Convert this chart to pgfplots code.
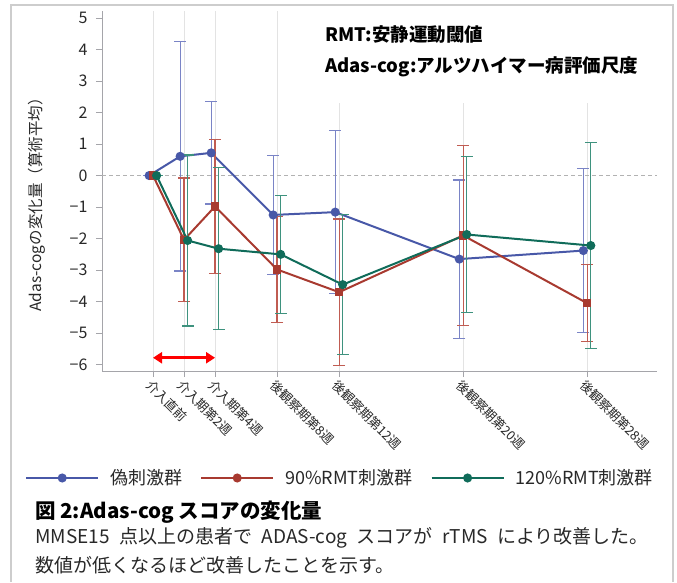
\documentclass[border=0pt]{standalone}
\usepackage{fontspec}
\setmainfont{Noto Sans CJK JP}
\usepackage{pgfplots}
\pgfplotsset{compat=1.18}
\usetikzlibrary{arrows.meta}
\definecolor{blueL}{RGB}{72,88,168}
\definecolor{blueE}{RGB}{122,132,198}
\definecolor{redL}{RGB}{168,58,48}
\definecolor{redE}{RGB}{192,92,82}
\definecolor{greenL}{RGB}{16,108,90}
\definecolor{greenE}{RGB}{62,146,126}
\definecolor{frameC}{RGB}{205,205,205}
\definecolor{axisC}{RGB}{165,165,170}
\definecolor{txtC}{RGB}{40,40,40}
\begin{document}
\begin{tikzpicture}
\path[use as bounding box] (0pt,0pt) rectangle (677pt,582pt);
\draw[frameC, line width=1.6pt] (11pt,0pt) -- (11pt,577pt) -- (673pt,577pt) -- (673pt,0pt);
\begin{axis}[
  at={(102pt,211pt)}, anchor=south west,
  scale only axis, width=555pt, height=360pt,
  xmin=-3.29, xmax=32.5, ymin=-6.2, ymax=5.22,
  axis x line*=bottom, axis y line*=left,
  axis line style={-, draw=axisC, line width=1pt},
  tick align=outside, major tick length=6pt,
  tick style={draw=axisC, line width=0.8pt},
  xtick={0,2,4,8,12,20,28},
  xticklabels={介入直前,介入期第2週,介入期第4週,後観察期第8週,後観察期第12週,後観察期第20週,後観察期第28週},
  xticklabel style={rotate=-45, anchor=north west, font=\fontsize{12.8}{14}\selectfont, text=black!85, inner sep=1pt},
  ytick={-6,-5,-4,-3,-2,-1,0,1,2,3,4,5},
  yticklabels={−6,−5,−4,−3,−2,−1,0,1,2,3,4,5},
  yticklabel style={font=\fontsize{16}{18}\selectfont, text=txtC, xshift=-5pt},
  xmajorgrids, grid style={draw=gray!22, line width=1pt},
  legend columns=3,
  legend style={at={(-0.1387,-0.2972)}, anchor=west, draw=none, fill=none, inner sep=0pt,
    font=\fontsize{18}{20}\selectfont, text=txtC,
    nodes={inner sep=0pt},
    /tikz/every odd column/.append style={column sep=11pt},
    /tikz/every even column/.append style={column sep=18pt}},
  legend image code/.code={\draw[mark repeat=2,mark phase=2,#1] plot coordinates {(0pt,0pt) (36pt,0pt) (72pt,0pt)};},
]
\addplot[gray!60, dash pattern=on 4pt off 3pt, line width=0.8pt, forget plot] coordinates {(-3.29,0) (32.5,0)};

\addplot[blueL, line width=2pt, mark=*, mark size=3.5pt, mark options={solid, fill=blueL}, forget plot,
  error bars/.cd, y dir=both, y explicit,
  error bar style={color=blueE, line width=1.2pt},
  error mark options={rotate=90, mark size=6pt, color=blueE, line width=1.2pt}]
coordinates {
(-0.25,0) +- (0,0)
(1.75,0.61) +- (0,3.64)
(3.75,0.72) +- (0,1.62)
(7.75,-1.25) +- (0,1.88)
(11.75,-1.16) +- (0,2.58)
(19.75,-2.65) +- (0,2.51)
(27.75,-2.38) +- (0,2.60)
};

\addplot[redL, line width=2pt, mark=square*, mark size=3.2pt, mark options={solid, fill=redL}, forget plot,
  error bars/.cd, y dir=both, y explicit,
  error bar style={color=redE, line width=1.2pt},
  error mark options={rotate=90, mark size=6pt, color=redE, line width=1.2pt}]
coordinates {
(0,0) +- (0,0)
(2,-2.04) +- (0,1.96)
(4,-0.98) +- (0,2.12)
(8,-2.98) +- (0,1.68)
(12,-3.70) +- (0,2.32)
(20,-1.90) +- (0,2.85)
(28,-4.05) +- (0,1.22)
};

\addplot[greenL, line width=2pt, mark=*, mark size=3.5pt, mark options={solid, fill=greenL}, forget plot,
  error bars/.cd, y dir=both, y explicit,
  error bar style={color=greenE, line width=1.2pt},
  error mark options={rotate=90, mark size=6pt, color=greenE, line width=1.2pt}]
coordinates {
(0.23,0) +- (0,0)
(2.23,-2.06) +- (0,2.71)
(4.23,-2.32) +- (0,2.57)
(8.23,-2.50) +- (0,1.87)
(12.23,-3.46) +- (0,2.22)
(20.23,-1.87) +- (0,2.48)
(28.23,-2.22) +- (0,3.27)
};

\addlegendimage{blueL, line width=2pt, mark=*, mark size=3.5pt, mark options={fill=blueL}}
\addlegendentry{偽刺激群}
\addlegendimage{redL, line width=2pt, mark=*, mark size=3.5pt, mark options={fill=redL}}
\addlegendentry{90\%RMT刺激群}
\addlegendimage{greenL, line width=2pt, mark=*, mark size=3.5pt, mark options={fill=greenL}}
\addlegendentry{120\%RMT刺激群}

\draw[{Triangle[length=9pt,width=11pt]}-{Triangle[length=9pt,width=11pt]}, red, line width=3pt]
  (axis cs:0,-5.78) -- (axis cs:4,-5.78);
\end{axis}
\fill[white] (300pt,479pt) rectangle (656pt,570.5pt);
\node[anchor=west, font=\fontsize{18.5}{21}\selectfont\bfseries, inner sep=0pt] at (325pt,547pt) {RMT:安静運動閾値};
\node[anchor=west, font=\fontsize{18.5}{21}\selectfont\bfseries, inner sep=0pt] at (325pt,515pt) {Adas-cog:アルツハイマー病評価尺度};
\node[rotate=90, font=\fontsize{15.5}{17}\selectfont, text=txtC] at (37pt,381pt) {Adas-cogの変化量（算術平均）};
\node[anchor=west, font=\fontsize{20.5}{22}\selectfont\bfseries, inner sep=0pt] at (35pt,70pt) {図 2:Adas-cog スコアの変化量};
\node[anchor=west, font=\fontsize{19}{21}\selectfont, inner sep=0pt, text=txtC] at (35pt,44pt) {MMSE15\hspace{0.5em}点以上の患者で\hspace{0.5em}ADAS-cog\hspace{0.5em}スコアが\hspace{0.5em}rTMS\hspace{0.5em}により改善した。};
\node[anchor=west, font=\fontsize{19}{21}\selectfont, inner sep=0pt, text=txtC] at (35pt,17pt) {数値が低くなるほど改善したことを示す。};
\end{tikzpicture}
\end{document}
